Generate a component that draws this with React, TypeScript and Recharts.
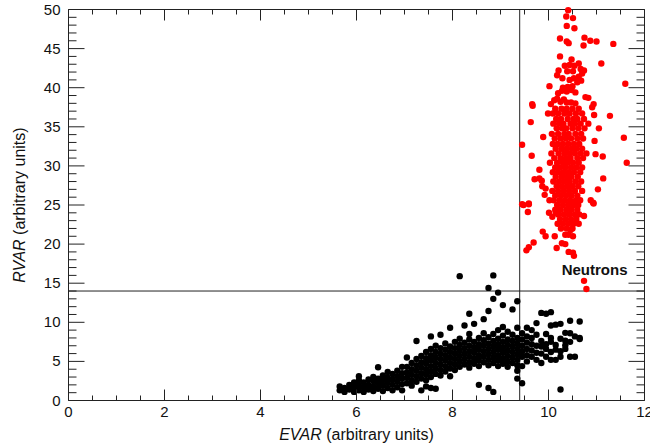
import {
  ScatterChart,
  Scatter,
  XAxis,
  YAxis,
  ReferenceLine,
  ReferenceArea,
  ReferenceDot,
  Label,
} from "recharts";

const AXIS = "#222";
const FONT = "Liberation Sans, Arial, sans-serif";

// plot box: left 68.5, top 9.5 (half pixels keep the 1px frame crisp)
const PLOT_W = 576;
const PLOT_H = 391;

const X_MAJOR = [0, 2, 4, 6, 8, 10, 12];
const X_TICKS = [
  0, 0.5, 1, 1.5, 2, 2.5, 3, 3.5, 4, 4.5, 5, 5.5, 6, 6.5, 7, 7.5, 8, 8.5, 9,
  9.5, 10, 10.5, 11, 11.5, 12,
];
const Y_MAJOR = [0, 5, 10, 15, 20, 25, 30, 35, 40, 45, 50];
const Y_TICKS = [
  0, 1, 2, 3, 4, 5, 6, 7, 8, 9, 10, 11, 12, 13, 14, 15, 16, 17, 18, 19, 20, 21,
  22, 23, 24, 25, 26, 27, 28, 29, 30, 31, 32, 33, 34, 35, 36, 37, 38, 39, 40,
  41, 42, 43, 44, 45, 46, 47, 48, 49, 50,
];

// cut lines
const EVAR_CUT = 9.4;
const RVAR_CUT = 14;

// red: sparse points read one by one
const NEUTRON_POINTS: [number, number][] = [
  [10.41, 49.9], [10.37, 49.1], [10.51, 48.9], [10.38, 47.9], [10.54, 47.6],
  [10.24, 46.3], [10.38, 45.9], [10.42, 45.7], [10.75, 46.4], [10.87, 46.0],
  [11.0, 45.9], [10.73, 45.4], [11.35, 45.6], [10.24, 44.0], [10.48, 43.6],
  [11.1, 43.1], [10.34, 42.8], [10.44, 42.9], [10.54, 42.8], [10.63, 43.1],
  [10.21, 42.2], [10.39, 42.1], [10.51, 42.1], [10.67, 42.4], [10.74, 42.2],
  [10.18, 41.6], [10.29, 41.2], [10.44, 41.0], [10.53, 41.2], [10.63, 41.4],
  [10.7, 41.8], [10.68, 40.9], [10.6, 40.7], [11.6, 40.5], [10.02, 40.2],
  [10.3, 40.0], [10.4, 40.1], [10.5, 40.2], [10.28, 39.6], [10.38, 39.5],
  [10.48, 39.7], [10.56, 39.4], [10.2, 39.3], [10.77, 38.8], [10.83, 38.7],
  [10.12, 38.4], [10.18, 38.6], [10.25, 38.2], [10.32, 38.5], [10.38, 38.1],
  [10.47, 38.1], [10.56, 38.0], [10.05, 37.9], [9.66, 37.9], [10.94, 37.9],
  [9.67, 37.7], [9.99, 36.7], [10.91, 37.5], [10.95, 36.5], [11.28, 36.4],
  [9.63, 35.6], [10.83, 35.4], [11.05, 34.8], [9.89, 33.7], [11.57, 33.6],
  [10.96, 33.2], [9.45, 32.7], [9.65, 31.3], [10.98, 31.5], [11.13, 31.2],
  [11.63, 30.4], [9.81, 29.5], [9.71, 28.3], [9.81, 28.4], [9.86, 28.1],
  [11.14, 28.4], [9.87, 27.4], [9.94, 27.1], [11.03, 27.0], [9.92, 26.3],
  [10.02, 25.6], [9.59, 25.2], [10.88, 25.6], [10.93, 25.3], [9.45, 25.1],
  [9.48, 25.0], [9.59, 25.1], [9.57, 24.1], [10.01, 24.0], [10.08, 23.5],
  [10.15, 24.1], [10.74, 23.6], [10.94, 25.2], [9.88, 21.6], [9.94, 21.0],
  [10.13, 21.0], [10.35, 21.2], [10.42, 21.2], [10.51, 21.0], [10.46, 21.8],
  [9.69, 20.2], [9.59, 19.6], [9.54, 19.2], [10.28, 20.1], [10.35, 20.0],
  [10.17, 19.5], [10.42, 19.0], [10.51, 18.9], [10.53, 18.5], [10.74, 15.3],
  [10.79, 14.25],
];

// red: dense core, one row per RVAR level with the EVAR values along it
const NEUTRON_CORE: [number, number[]][] = [
  [37.3, [10.14, 10.27, 10.38, 10.5, 10.63]],
  [36.7, [10.09, 10.2, 10.33, 10.44, 10.57, 10.7]],
  [36.0, [10.16, 10.26, 10.4, 10.52, 10.6, 10.74]],
  [35.4, [10.1, 10.22, 10.31, 10.46, 10.55, 10.67]],
  [34.8, [10.17, 10.28, 10.37, 10.5, 10.62, 10.75]],
  [34.1, [10.07, 10.2, 10.33, 10.42, 10.56, 10.68]],
  [33.5, [10.13, 10.25, 10.36, 10.47, 10.6, 10.72]],
  [32.8, [10.09, 10.19, 10.3, 10.41, 10.53, 10.64]],
  [32.2, [10.15, 10.27, 10.38, 10.49, 10.58, 10.7]],
  [31.6, [10.06, 10.21, 10.33, 10.44, 10.55, 10.67, 10.79]],
  [31.0, [10.12, 10.25, 10.36, 10.46, 10.6, 10.72]],
  [30.4, [10.03, 10.18, 10.3, 10.4, 10.51, 10.63]],
  [29.8, [10.14, 10.24, 10.35, 10.47, 10.58, 10.7]],
  [29.2, [10.09, 10.2, 10.31, 10.42, 10.53, 10.66]],
  [28.6, [10.15, 10.27, 10.38, 10.48, 10.61]],
  [28.0, [10.1, 10.22, 10.33, 10.44, 10.56, 10.68]],
  [27.4, [10.17, 10.28, 10.39, 10.5, 10.62]],
  [26.8, [10.08, 10.2, 10.32, 10.43, 10.55, 10.7]],
  [26.2, [10.14, 10.26, 10.37, 10.48, 10.6]],
  [25.6, [10.11, 10.23, 10.34, 10.45, 10.57, 10.66]],
  [25.0, [10.18, 10.3, 10.41, 10.52, 10.62]],
  [24.4, [10.14, 10.25, 10.37, 10.48, 10.6]],
  [23.8, [10.2, 10.32, 10.43, 10.55, 10.64]],
  [23.2, [10.24, 10.36, 10.47, 10.58]],
  [22.6, [10.19, 10.3, 10.41, 10.52, 10.63]],
  [22.0, [10.26, 10.38, 10.5]],
];

// black: one column per EVAR value with the RVAR values in it
const GAMMA_COLUMNS: [number, number[]][] = [
  [5.65, [1.3, 1.8]],
  [5.75, [1.1, 1.6]],
  [5.85, [1.4, 2.0]],
  [5.95, [1.1, 1.7, 2.3]],
  [6.05, [1.3, 1.9, 2.6, 3.1]],
  [6.15, [1.1, 1.7, 2.3]],
  [6.25, [1.4, 2.0, 2.7]],
  [6.35, [1.2, 1.8, 2.5, 3.0]],
  [6.45, [1.5, 2.2, 2.8, 4.25]],
  [6.55, [1.2, 1.9, 2.6, 3.2]],
  [6.65, [1.6, 2.3, 2.9, 3.65]],
  [6.75, [1.3, 2.0, 2.7, 3.4]],
  [6.85, [1.7, 2.4, 3.1, 3.8]],
  [6.95, [1.3, 2.1, 2.8, 3.5, 4.3]],
  [7.05, [2.2, 2.9, 3.6, 4.3, 5.5]],
  [7.15, [1.9, 2.6, 3.3, 4.0, 4.8]],
  [7.25, [2.4, 3.1, 3.8, 4.5, 5.3, 7.6]],
  [7.35, [1.3, 2.8, 3.5, 4.2, 4.9, 5.7]],
  [7.45, [1.8, 2.6, 3.3, 4.0, 4.7, 5.4, 6.2]],
  [7.55, [1.6, 3.0, 3.7, 4.4, 5.1, 5.8, 6.6, 8.2]],
  [7.65, [1.5, 3.4, 4.1, 4.8, 5.5, 6.2, 7.0]],
  [7.75, [3.2, 3.9, 4.6, 5.3, 6.0, 6.7, 8.4]],
  [7.85, [3.7, 4.4, 5.1, 5.8, 6.5, 7.3]],
  [7.95, [3.1, 4.1, 4.8, 5.5, 6.2, 6.9, 9.3]],
  [8.05, [3.9, 4.6, 5.3, 6.0, 6.7, 7.5]],
  [8.15, [4.3, 5.0, 5.7, 6.4, 7.1, 7.9, 15.9]],
  [8.25, [4.6, 5.3, 6.0, 6.7, 7.4, 9.6]],
  [8.35, [4.2, 4.9, 5.6, 6.3, 7.0, 7.8, 8.5, 11.1]],
  [8.45, [4.7, 5.4, 6.1, 6.8, 7.5, 9.8]],
  [8.55, [2.0, 4.4, 5.1, 5.8, 6.5, 7.2, 8.0]],
  [8.65, [4.9, 5.6, 6.3, 7.0, 7.7, 8.6, 10.4]],
  [8.75, [1.6, 4.5, 5.2, 5.9, 6.6, 7.3, 8.1, 11.45, 14.4]],
  [8.85, [1.1, 4.8, 5.5, 6.2, 6.9, 7.6, 8.5, 13.0, 16.0]],
  [8.95, [4.4, 5.1, 5.8, 6.5, 7.2, 7.9, 9.0, 13.8]],
  [9.05, [4.7, 5.4, 6.1, 6.8, 7.5, 8.3, 9.4, 12.2]],
  [9.15, [4.3, 5.0, 5.7, 6.4, 7.1, 7.8, 8.8]],
  [9.25, [4.8, 5.5, 6.2, 6.9, 7.6, 8.4, 11.65]],
  [9.35, [2.8, 3.8, 4.5, 5.2, 5.9, 6.6, 7.3, 8.0, 9.3, 12.7]],
  [9.45, [2.2, 4.4, 5.6, 6.3, 7.0, 7.8, 8.6]],
  [9.55, [5.0, 5.8, 6.6, 7.4, 8.2, 9.3]],
  [9.65, [5.6, 6.4, 7.2, 8.0, 9.0]],
  [9.75, [5.2, 6.1, 7.0, 8.4, 9.9]],
  [9.85, [4.8, 6.0, 6.9, 7.6, 11.2]],
  [9.95, [5.6, 6.6, 7.2, 8.5, 11.1]],
  [10.05, [5.2, 6.2, 7.5, 8.0, 9.6, 11.3]],
  [10.15, [5.2, 6.5, 7.1, 9.7]],
  [10.25, [1.4, 5.6, 6.3, 7.9, 9.8]],
  [10.35, [6.6, 7.05, 7.65, 8.65]],
  [10.45, [5.6, 7.5, 8.6, 10.2]],
  [10.55, [5.6, 8.2]],
  [10.65, [7.85, 8.0, 10.1]],
];

const neutrons = [
  ...NEUTRON_POINTS.map(([x, y]) => ({ x, y })),
  ...NEUTRON_CORE.flatMap(([y, xs]) => xs.map((x) => ({ x, y }))),
];
const gammas = GAMMA_COLUMNS.flatMap(([x, ys]) => ys.map((y) => ({ x, y })));

const dot = (color: string) => (p: any) => (
  <circle cx={p.cx} cy={p.cy} r={3.2} fill={color} />
);

const txt = { fontFamily: FONT, fontSize: 15, fill: "#111" };

// bottom axis tick + its twin on the top edge of the box
function XTick(props: any) {
  const { payload } = props;
  const x = Number(props.x);
  const y = Number(props.y);
  const len = X_MAJOR.includes(payload.value) ? 11 : 5;
  const top = y - PLOT_H;
  return (
    <g>
      <path
        d={`M${x},${y}V${y - len}M${x},${top}V${top + len}`}
        stroke={AXIS}
        fill="none"
      />
      {len > 5 && (
        <text x={x} y={y + 16} textAnchor="middle" {...txt}>
          {payload.value}
        </text>
      )}
    </g>
  );
}

// left axis tick + its twin on the right edge of the box
function YTick(props: any) {
  const { payload } = props;
  const x = Number(props.x);
  const y = Number(props.y);
  const len = Y_MAJOR.includes(payload.value) ? 16 : 8;
  const right = x + PLOT_W;
  return (
    <g>
      <path
        d={`M${x},${y}H${x + len}M${right},${y}H${right - len}`}
        stroke={AXIS}
        fill="none"
      />
      {len > 8 && (
        <text x={x - 8} y={y + 5} textAnchor="end" {...txt}>
          {payload.value}
        </text>
      )}
    </g>
  );
}

export default function App() {
  return (
    <div style={{ position: "absolute", left: 0, top: 0 }}>
      <ScatterChart
        width={650}
        height={446}
        margin={{ top: 9.5, right: 5.5, bottom: 0, left: 0.5 }}
      >
        <XAxis
          type="number"
          dataKey="x"
          domain={[0, 12]}
          ticks={X_TICKS}
          interval={0}
          tickSize={0}
          tickMargin={0}
          tickLine={false}
          tick={<XTick />}
          axisLine={false}
          height={45.5}
        >
          <Label
            content={({ viewBox }: any) => (
              <text
                x={viewBox.x + viewBox.width / 2}
                y={viewBox.y + 39}
                textAnchor="middle"
                fontFamily={FONT}
                fontSize={16}
                fill="#111"
              >
                <tspan fontStyle="italic">EVAR</tspan> (arbitrary units)
              </text>
            )}
          />
        </XAxis>
        <YAxis
          type="number"
          dataKey="y"
          domain={[0, 50]}
          ticks={Y_TICKS}
          interval={0}
          tickSize={0}
          tickMargin={0}
          tickLine={false}
          tick={<YTick />}
          axisLine={false}
          width={68}
        >
          <Label
            content={({ viewBox }: any) => {
              const cx = 19;
              const cy = viewBox.y + viewBox.height / 2;
              return (
                <text
                  x={cx}
                  y={cy}
                  transform={`rotate(-90 ${cx} ${cy})`}
                  textAnchor="middle"
                  dominantBaseline="central"
                  fontFamily={FONT}
                  fontSize={16}
                  fill="#111"
                >
                  <tspan fontStyle="italic">RVAR</tspan> (arbitrary units)
                </text>
              );
            }}
          />
        </YAxis>
        {/* box around the plot */}
        <ReferenceArea
          x1={0}
          x2={12}
          y1={0}
          y2={50}
          fill="none"
          fillOpacity={0}
          stroke={AXIS}
          strokeWidth={1}
          ifOverflow="visible"
        />
        <ReferenceLine x={EVAR_CUT} stroke={AXIS} strokeWidth={1} />
        <ReferenceLine y={RVAR_CUT} stroke={AXIS} strokeWidth={1} />
        <Scatter
          data={gammas}
          shape={dot("#000")}
          isAnimationActive={false}
        />
        <Scatter
          data={neutrons}
          shape={dot("#ff0000")}
          isAnimationActive={false}
        />
        <ReferenceDot
          x={10.96}
          y={16.7}
          r={0}
          fill="none"
          stroke="none"
          label={{
            value: "Neutrons",
            position: "center",
            fontFamily: FONT,
            fontSize: 15,
            fontWeight: "bold",
            fill: "#111",
          }}
        />
      </ScatterChart>
    </div>
  );
}
